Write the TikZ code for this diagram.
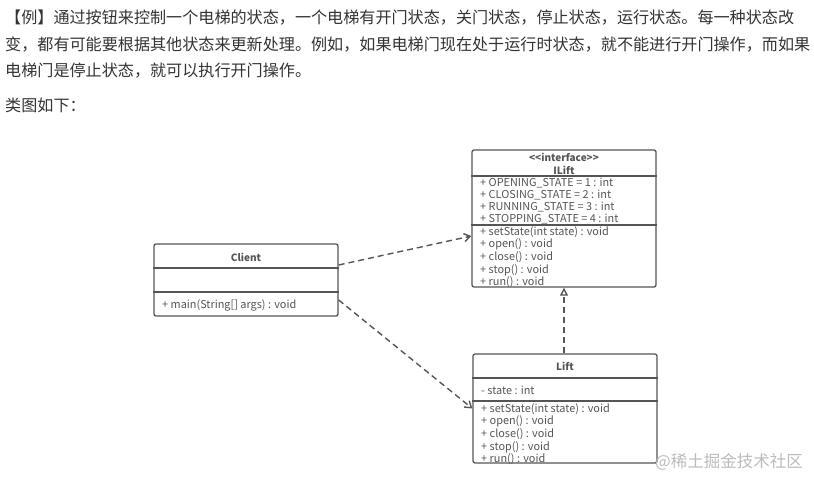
\documentclass[tikz,border=0pt]{standalone}
\usepackage{fontspec}
\setmainfont{Noto Sans CJK SC}
\usetikzlibrary{arrows.meta}

\definecolor{bodytext}{HTML}{333333}
\definecolor{umlline}{HTML}{555555}
\definecolor{umltext}{HTML}{555555}
\definecolor{marktext}{HTML}{BBBBBB}

\tikzset{
  para/.style={anchor=west, inner sep=0pt, text=bodytext, font=\fontsize{16.1}{20}\selectfont},
  classbox/.style={draw=umlline, line width=1.3pt, rounded corners=2pt, inner sep=0pt},
  classname/.style={inner sep=0pt, text=umltext, font=\fontsize{10}{12}\selectfont\bfseries},
  member/.style={anchor=west, inner sep=0pt, text=umltext, font=\fontsize{10.9}{12}\selectfont},
  sepline/.style={draw=umlline, line width=1.2pt},
  depends/.style={draw=umlline, line width=1.4pt, dash pattern=on 6pt off 4pt, -{Straight Barb[length=6pt,width=8pt]}},
  realizes/.style={draw=umlline, line width=1.4pt, dash pattern=on 6pt off 4pt, -{Triangle[open,length=8pt,width=8pt]}}
}

\begin{document}
\begin{tikzpicture}[x=1pt, y=-1pt]
  \useasboundingbox (0,0) rectangle (814,479);

  % text above the diagram
  \node[para] (line1) at (5,18) {【例】通过按钮来控制一个电梯的状态，一个电梯有开门状态，关门状态，停止状态，运行状态。每一种状态改};
  \node[para] (line2) at (5,45) {变，都有可能要根据其他状态来更新处理。例如，如果电梯门现在处于运行时状态，就不能进行开门操作，而如果};
  \node[para] (line3) at (5,71) {电梯门是停止状态，就可以执行开门操作。};
  \node[para] (line4) at (5,105) {类图如下：};

  % interface ILift
  \node[classbox, minimum width=184, minimum height=137] (ilift) at (564,218.5) {};
  \node[classname] (iliftstereo) at (564,157) {<{}<interface>{}>};
  \node[classname] (iliftname) at (564,170) {ILift};
  \draw[sepline] (ilift.west |- 0,176) -- (ilift.east |- 0,176);
  \node[member] (ia1) at (480,183) {+ OPENING\_STATE = 1 : int};
  \node[member] (ia2) at (480,195) {+ CLOSING\_STATE = 2 : int};
  \node[member] (ia3) at (480,207) {+ RUNNING\_STATE = 3 : int};
  \node[member] (ia4) at (480,219.5) {+ STOPPING\_STATE = 4 : int};
  \draw[sepline] (ilift.west |- 0,225) -- (ilift.east |- 0,225);
  \node[member] (im1) at (480,232) {+ setState(int state) : void};
  \node[member] (im2) at (480,244.5) {+ open() : void};
  \node[member] (im3) at (480,257) {+ close() : void};
  \node[member] (im4) at (480,270) {+ stop() : void};
  \node[member] (im5) at (480,282) {+ run() : void};

  % class Client
  \node[classbox, minimum width=184, minimum height=72] (client) at (246,280) {};
  \node[classname] (clientname) at (246,257) {Client};
  \draw[sepline] (client.west |- 0,268) -- (client.east |- 0,268);
  \draw[sepline] (client.west |- 0,292) -- (client.east |- 0,292);
  \node[member] (cm1) at (162,305) {+ main(String[] args) : void};

  % class Lift
  \node[classbox, minimum width=184, minimum height=109] (lift) at (565,408.5) {};
  \node[classname] (liftname) at (565,366) {Lift};
  \draw[sepline] (lift.west |- 0,378) -- (lift.east |- 0,378);
  \node[member] (la1) at (481,390) {- state : int};
  \draw[sepline] (lift.west |- 0,401) -- (lift.east |- 0,401);
  \node[member] (lm1) at (481,409) {+ setState(int state) : void};
  \node[member] (lm2) at (481,421.5) {+ open() : void};
  \node[member] (lm3) at (481,434) {+ close() : void};
  \node[member] (lm4) at (481,447) {+ stop() : void};
  \node[member] (lm5) at (481,459) {+ run() : void};

  % relations
  \draw[depends] ([yshift=15]client.east) -- ([yshift=-17.5]ilift.west);
  \draw[depends] ([yshift=-20]client.east) -- (lift.west);
  \draw[realizes] (lift.north -| ilift.south) -- (ilift.south);

  % watermark
  \node[anchor=west, inner sep=0pt, text=marktext, font=\fontsize{16.5}{18}\selectfont] (mark) at (655,462) {@稀土掘金技术社区};
\end{tikzpicture}
\end{document}
